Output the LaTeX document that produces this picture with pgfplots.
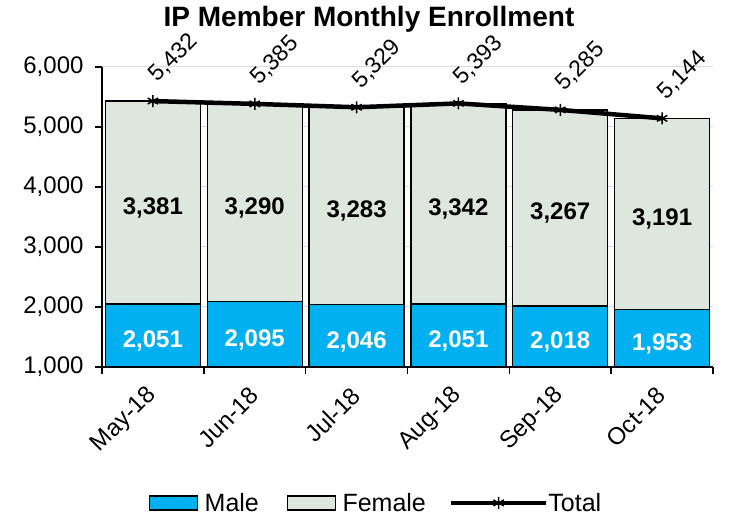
\documentclass[border=0pt]{standalone}
\usepackage{fontspec}
\setmainfont{Liberation Sans}
\usepackage{pgfplots}
\pgfplotsset{compat=1.18}

\definecolor{malec}{HTML}{00B0F0}
\definecolor{femalec}{HTML}{DDE7DD}
\definecolor{gridc}{HTML}{D9DAE6}

\pgfplotsset{
  /pgf/number format/.cd, 1000 sep={,}, assume math mode=true,
  /pgfplots/.cd,
  base/.style={
    width=611pt, height=300pt, scale only axis,
    xmin=-0.5, xmax=5.5, ymin=1000, ymax=6000,
    enlargelimits=false,
  },
  % legend images carry their own gap to the text
  boxlegend/.style={legend image code/.code={
    \draw[##1] (0pt,-7pt) rectangle (48pt,7pt);
    \path[draw=none, fill=none] (0pt,0pt) -- (55pt,0pt);}},
  linelegend/.style={legend image code/.code={
    \draw[##1, mark=none] (0pt,0pt) -- (53pt,0pt);
    \draw[##1] plot coordinates {(26.5pt,0pt)};
    \path[draw=none, fill=none] (0pt,0pt) -- (58pt,0pt);}},
}

\begin{document}
\begin{tikzpicture}
\begin{axis}[base, name=main,
  ybar stacked, bar width=0.933,
  axis x line*=bottom, axis y line*=left,
  axis line style={line width=1.6pt, black},
  tick align=outside, major tick length=7pt,
  tick style={black, line width=1.4pt},
  ytick={1000,2000,...,6000},
  yticklabels={{1,000},{2,000},{3,000},{4,000},{5,000},{6,000}},
  ymajorgrids, major grid style={gridc, line width=1pt},
  xtick={-0.5,0.5,...,5.5},
  x tick label as interval,
  xticklabels={May-18,Jun-18,Jul-18,Aug-18,Sep-18,Oct-18},
  every tick label/.append style={font=\fontsize{24}{28}\selectfont},
  yticklabel style={xshift=-8pt},
  xticklabel style={yshift=-15pt, xshift=2pt, rotate=45, anchor=east},
  title={IP Member Monthly Enrollment},
  title style={font=\bfseries\fontsize{28}{32}\selectfont, at={(0.437,1.14)}, anchor=center},
  legend columns=-1,
  legend style={draw=none, at={(0.447,-0.453)}, anchor=center,
    font=\fontsize{25}{29}\selectfont, nodes={inner sep=0pt},
    column sep=0pt},
]
\addplot[fill=malec, draw=black, line width=1.3pt,
  point meta=rawy, nodes near coords,
  every node near coord/.style={text=white, font=\bfseries\fontsize{24}{28}\selectfont,
    anchor=center, yshift=24pt},
  boxlegend]
  coordinates {(0,2051) (1,2095) (2,2046) (3,2051) (4,2018) (5,1953)};
\addlegendentry{Male\hspace*{28pt}}
\addplot[fill=femalec, draw=black, line width=1.3pt,
  point meta=rawy, nodes near coords,
  every node near coord/.style={text=black, font=\bfseries\fontsize{24}{28}\selectfont,
    anchor=center, yshift=-5pt},
  boxlegend]
  coordinates {(0,3381) (1,3290) (2,3283) (3,3342) (4,3267) (5,3191)};
\addlegendentry{Female\hspace*{23pt}}
\addlegendimage{black, line width=4.5pt, mark=asterisk, mark size=6pt,
  mark options={line width=1.5pt}, linelegend}
\addlegendentry{Total}
\end{axis}
\begin{axis}[base, hide axis, clip=false]
\addplot[black, line width=4.5pt, mark=asterisk, mark size=6pt,
  mark options={line width=1.5pt},
  point meta=y, nodes near coords,
  every node near coord/.style={text=black, font=\fontsize{23}{27}\selectfont,
    yshift=20pt, xshift=-3pt, rotate=45, anchor=west}]
  coordinates {(0,5432) (1,5385) (2,5329) (3,5393) (4,5285) (5,5144)};
\end{axis}
\pgfresetboundingbox
\path (main.south west) ++(-102pt,-151pt) rectangle ([shift={(23pt,67pt)}]main.north east);
\end{tikzpicture}
\end{document}
